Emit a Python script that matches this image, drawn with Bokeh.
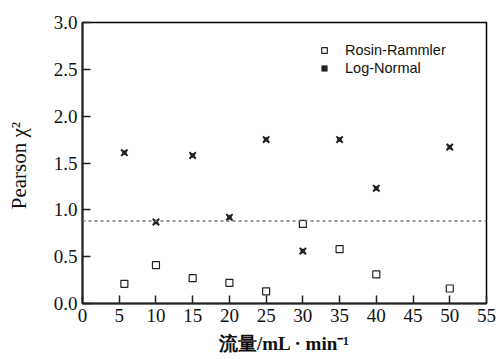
from bokeh.plotting import figure
from bokeh.models import Span, Legend, LegendItem, FixedTicker, PrintfTickFormatter, Range1d
from bokeh.embed import file_html
from bokeh.resources import INLINE

flow = [5.7, 10, 15, 20, 25, 30, 35, 40, 50]
rosin_rammler = [0.21, 0.41, 0.27, 0.22, 0.13, 0.85, 0.58, 0.31, 0.16]
log_normal = [1.61, 0.87, 1.58, 0.92, 1.75, 0.56, 1.75, 1.23, 1.67]
threshold = 0.88
x_ticks = [0, 5, 10, 15, 20, 25, 30, 35, 40, 45, 50, 55]
y_ticks = [0.0, 0.5, 1.0, 1.5, 2.0, 2.5, 3.0]

p = figure(width=498, height=359, output_backend="svg", toolbar_location=None,
           x_range=Range1d(0, 55), y_range=Range1d(0, 3),
           min_border_left=82, min_border_right=12, min_border_top=22, min_border_bottom=56)
p.grid.visible = False
p.outline_line_color = "black"
p.outline_line_width = 1.5
p.background_fill_color = "white"
p.border_fill_color = "white"

SERIF = "Liberation Serif"

p.xaxis.ticker = FixedTicker(ticks=x_ticks)
p.yaxis.ticker = FixedTicker(ticks=y_ticks)
p.yaxis.formatter = PrintfTickFormatter(format="%.1f")

p.axis.axis_line_width = 2
p.axis.axis_line_color = "#222222"
p.axis.major_tick_in = 8
p.axis.major_tick_out = 0
p.axis.major_tick_line_width = 1.5
p.axis.major_tick_line_color = "#222222"
p.axis.minor_tick_line_color = None
p.axis.major_label_text_font = SERIF
p.axis.major_label_text_font_style = "normal"
p.axis.major_label_text_font_size = "19px"
p.axis.major_label_text_color = "#111111"
p.axis.axis_label_text_font = SERIF
p.axis.axis_label_text_color = "#111111"

p.xaxis.major_label_standoff = 5
p.yaxis.major_label_standoff = 5
p.xaxis.axis_label = "流量/mL · min⁻¹"
p.xaxis.axis_label_text_font_size = "19px"
p.xaxis.axis_label_text_font_style = "bold"
p.xaxis.axis_label_standoff = 8
p.yaxis.axis_label = "Pearson  χ²"
p.yaxis.axis_label_text_font_size = "21px"
p.yaxis.axis_label_text_font_style = "normal"
p.yaxis.axis_label_standoff = 20

p.add_layout(Span(location=threshold, dimension="width", line_color="#777777",
                  line_dash="3 3", line_width=1.5))

r1 = p.scatter(flow, rosin_rammler, marker="square", size=7, fill_color="white",
               line_color="#222222", line_width=1.2)
r2a = p.scatter(flow, log_normal, marker="x", size=9, line_color="#222222", line_width=2)
r2b = p.scatter(flow, log_normal, marker="square", size=4, fill_color="#222222",
                line_color="#222222", line_width=0.5)

legend = Legend(items=[LegendItem(label="Rosin-Rammler", renderers=[r1]),
                       LegendItem(label="Log-Normal", renderers=[r2a, r2b])],
                location=(235, 226), padding=0, margin=0, spacing=0,
                glyph_width=14, glyph_height=18, label_height=18, label_standoff=14,
                label_text_font="Liberation Sans", label_text_font_size="14.5px",
                label_text_color="#111111",
                border_line_color=None, background_fill_alpha=0)
p.add_layout(legend)

open("out.html", "w").write(file_html(p, INLINE))
